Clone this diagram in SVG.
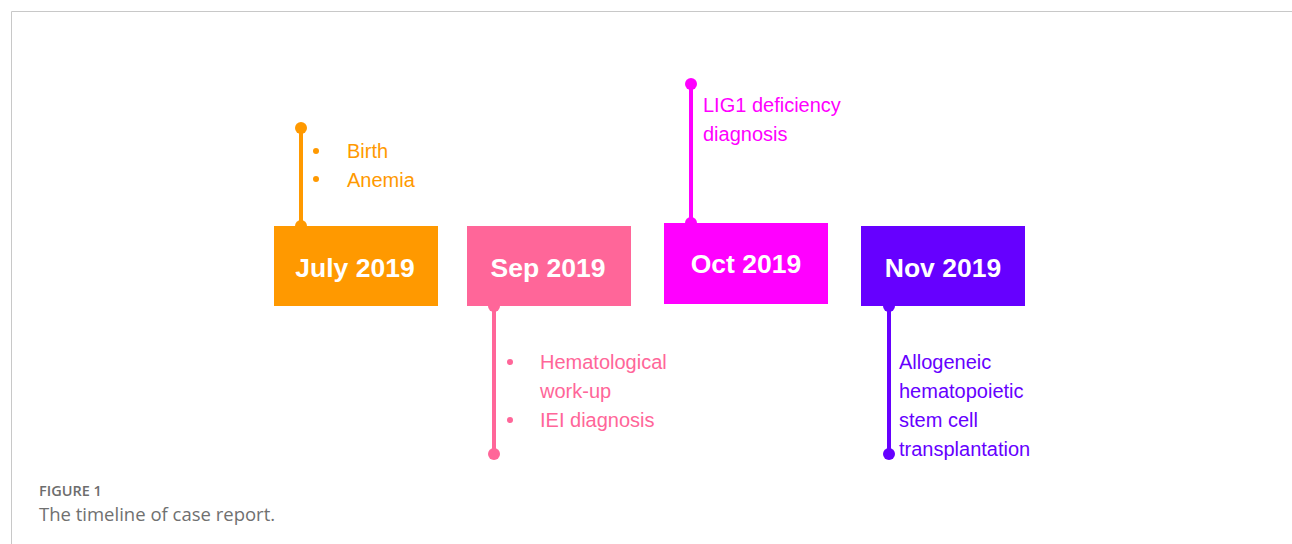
<svg xmlns="http://www.w3.org/2000/svg" width="1292" height="544" viewBox="0 0 1292 544">
<style>
.box-t{font-family:"Liberation Sans",Arial,sans-serif;font-weight:bold;font-size:26.5px;fill:#fff;text-anchor:middle}
.lbl{font-family:"Liberation Sans",Arial,sans-serif;font-size:20px}
.cap1{font-family:"Open Sans",sans-serif;font-size:14.5px;font-weight:600;fill:#6d6d6d}
.cap2{font-family:"Open Sans",sans-serif;font-size:18.5px;fill:#707070}
.stem{stroke-width:4;fill:none}
</style>
<rect width="1292" height="544" fill="#fff"/>
<path d="M11.5 544 V11.5 H1292" fill="none" stroke="#c8c8c8" stroke-width="1"/>
<g id="connectors">
  <line class="stem" x1="301" y1="128" x2="301" y2="226" stroke="#FF9900"/>
  <circle cx="301" cy="128" r="6" fill="#FF9900"/>
  <circle cx="301" cy="226" r="6" fill="#FF9900"/>
  <line class="stem" x1="494" y1="306" x2="494" y2="454" stroke="#FF6699"/>
  <circle cx="494" cy="306" r="6" fill="#FF6699"/>
  <circle cx="494" cy="454" r="6" fill="#FF6699"/>
  <line class="stem" x1="691" y1="84" x2="691" y2="223" stroke="#FF00FF"/>
  <circle cx="691" cy="84" r="6" fill="#FF00FF"/>
  <circle cx="691" cy="223" r="6" fill="#FF00FF"/>
  <line class="stem" x1="889" y1="306" x2="889" y2="454" stroke="#6600FF"/>
  <circle cx="889" cy="306" r="6" fill="#6600FF"/>
  <circle cx="889" cy="454" r="6" fill="#6600FF"/>
</g>
<g id="july">
  <rect x="274" y="226" width="164" height="80" fill="#FF9900"/>
  <text class="box-t" x="355" y="277">July 2019</text>
  <circle cx="316" cy="151" r="3" fill="#FF9900"/>
  <circle cx="316" cy="179" r="3" fill="#FF9900"/>
  <text class="lbl" fill="#FF9900" x="347" y="158">Birth</text>
  <text class="lbl" fill="#FF9900" x="347" y="187">Anemia</text>
</g>
<g id="sep">
  <rect x="467" y="226" width="164" height="80" fill="#FF6699"/>
  <text class="box-t" x="548" y="277">Sep 2019</text>
  <circle cx="510" cy="362" r="3" fill="#FF6699"/>
  <circle cx="510" cy="420" r="3" fill="#FF6699"/>
  <text class="lbl" fill="#FF6699" x="540" y="369">Hematological</text>
  <text class="lbl" fill="#FF6699" x="540" y="398">work-up</text>
  <text class="lbl" fill="#FF6699" x="540" y="427">IEI diagnosis</text>
</g>
<g id="oct">
  <rect x="664" y="223" width="164" height="81" fill="#FF00FF"/>
  <text class="box-t" x="746" y="273">Oct 2019</text>
  <text class="lbl" fill="#FF00FF" x="703" y="112">LIG1 deficiency</text>
  <text class="lbl" fill="#FF00FF" x="703" y="141">diagnosis</text>
</g>
<g id="nov">
  <rect x="861" y="226" width="164" height="80" fill="#6600FF"/>
  <text class="box-t" x="943" y="277">Nov 2019</text>
  <text class="lbl" fill="#6600FF" x="899" y="369">Allogeneic</text>
  <text class="lbl" fill="#6600FF" x="899" y="398">hematopoietic</text>
  <text class="lbl" fill="#6600FF" x="899" y="427">stem cell</text>
  <text class="lbl" fill="#6600FF" x="899" y="456">transplantation</text>
</g>
<g id="caption">
  <text class="cap1" x="39" y="496">FIGURE 1</text>
  <text class="cap2" x="39" y="521">The timeline of case report.</text>
</g>
</svg>
